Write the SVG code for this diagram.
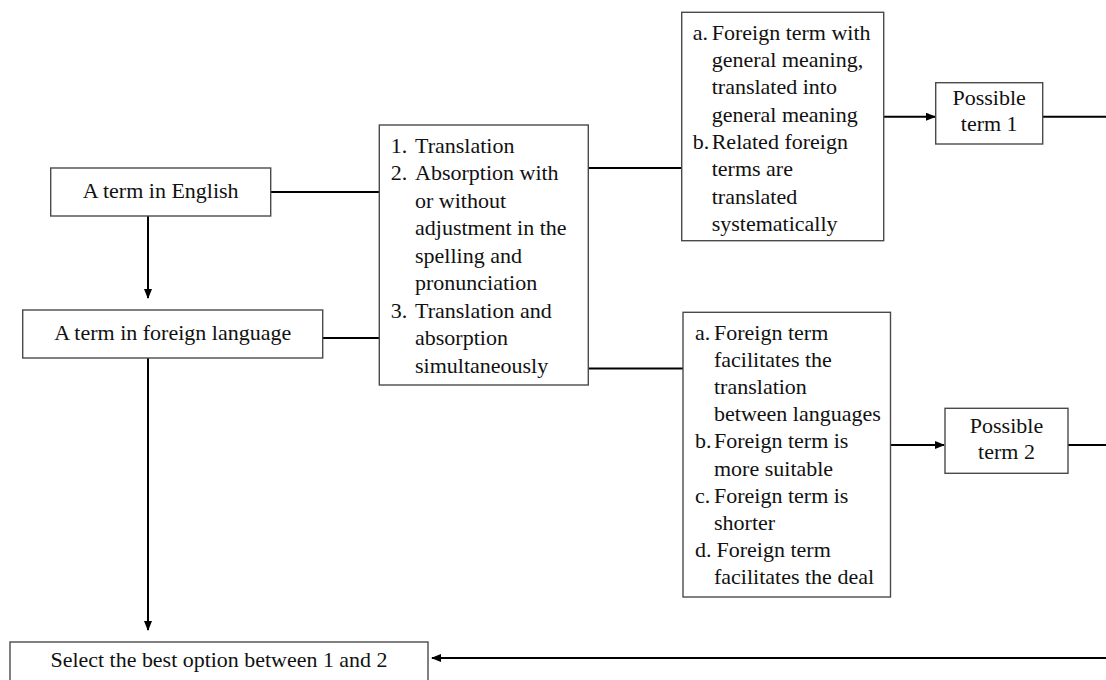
<svg xmlns="http://www.w3.org/2000/svg" width="1106" height="680" viewBox="0 0 1106 680" font-family="'Liberation Serif', Tinos, 'Times New Roman', 'DejaVu Serif', serif">
<style>
.box{fill:#fff;stroke:#4a4a4a;stroke-width:1.4}
.c{fill:none;stroke:#000;stroke-width:2}
text{font-family:'Liberation Serif',Tinos,'Times New Roman','DejaVu Serif',serif;font-size:22px;fill:#111}
.m{text-anchor:middle}
</style>
<defs>
<marker id="ah" markerWidth="10" markerHeight="8" refX="9" refY="4" orient="auto" markerUnits="userSpaceOnUse">
<path d="M0,0 L10,4 L0,8 Z" fill="#000"/>
</marker>
</defs>
<rect width="1106" height="680" fill="#fff"/>
<g id="connectors">
<path class="c" d="M271,192 H379"/>
<path class="c" d="M323,338 H379"/>
<path class="c" d="M588,168 H682"/>
<path class="c" d="M588,368.5 H683"/>
<path class="c" d="M148,216 V298" marker-end="url(#ah)"/>
<path class="c" d="M148,358 V630" marker-end="url(#ah)"/>
<path class="c" d="M884,116.7 H935" marker-end="url(#ah)"/>
<path class="c" d="M1043,116.7 H1106"/>
<path class="c" d="M890,445 H944" marker-end="url(#ah)"/>
<path class="c" d="M1068,445 H1106"/>
<path class="c" d="M1106,658 H432" marker-end="url(#ah)"/>
</g>
<g id="english">
<rect class="box" x="50.7" y="168" width="220" height="48"/>
<text class="m" x="160.7" y="198">A term in English</text>
</g>
<g id="foreign">
<rect class="box" x="22.7" y="310" width="300" height="48"/>
<text class="m" x="172.7" y="340">A term in foreign language</text>
</g>
<g id="methods">
<rect class="box" x="379.3" y="125" width="209" height="260"/>
<text x="390.7" y="152.7">1.</text><text x="415" y="152.7">Translation</text>
<text x="390.7" y="180.2">2.</text><text x="415" y="180.2">Absorption with</text>
<text x="415" y="207.7">or without</text>
<text x="415" y="235.2">adjustment in the</text>
<text x="415" y="262.7">spelling and</text>
<text x="415" y="290.2">pronunciation</text>
<text x="390.7" y="317.7">3.</text><text x="415" y="317.7">Translation and</text>
<text x="415" y="345.2">absorption</text>
<text x="415" y="372.7">simultaneously</text>
</g>
<g id="reasons1">
<rect class="box" x="681.7" y="12.3" width="202" height="228.4"/>
<text x="692.7" y="39.7">a.</text><text x="711.7" y="39.7">Foreign term with</text>
<text x="711.7" y="67">general meaning,</text>
<text x="711.7" y="94.3">translated into</text>
<text x="711.7" y="121.6">general meaning</text>
<text x="692.7" y="148.9">b.</text><text x="711.7" y="148.9">Related foreign</text>
<text x="711.7" y="176.2">terms are</text>
<text x="711.7" y="203.5">translated</text>
<text x="711.7" y="230.8">systematically</text>
</g>
<g id="reasons2">
<rect class="box" x="683" y="312.3" width="207.5" height="284.7"/>
<text x="695" y="339.5">a.</text><text x="714" y="339.5">Foreign term</text>
<text x="714" y="366.7">facilitates the</text>
<text x="714" y="393.9">translation</text>
<text x="714" y="421.1">between languages</text>
<text x="695" y="448.3">b.</text><text x="714" y="448.3">Foreign term is</text>
<text x="714" y="475.5">more suitable</text>
<text x="695" y="502.7">c.</text><text x="714" y="502.7">Foreign term is</text>
<text x="714" y="529.9">shorter</text>
<text x="695" y="557.1">d.</text><text x="716.5" y="557.1">Foreign term</text>
<text x="714" y="584.3">facilitates the deal</text>
</g>
<g id="possible1">
<rect class="box" x="935.7" y="82.7" width="107" height="61.3"/>
<text class="m" x="989.2" y="105">Possible</text>
<text class="m" x="989.2" y="131">term 1</text>
</g>
<g id="possible2">
<rect class="box" x="945" y="408.3" width="123" height="65"/>
<text class="m" x="1006.5" y="433">Possible</text>
<text class="m" x="1006.5" y="459">term 2</text>
</g>
<g id="select">
<rect class="box" x="10" y="642" width="418" height="40"/>
<text class="m" x="219" y="667" textLength="337" lengthAdjust="spacingAndGlyphs">Select the best option between 1 and 2</text>
</g>
</svg>
